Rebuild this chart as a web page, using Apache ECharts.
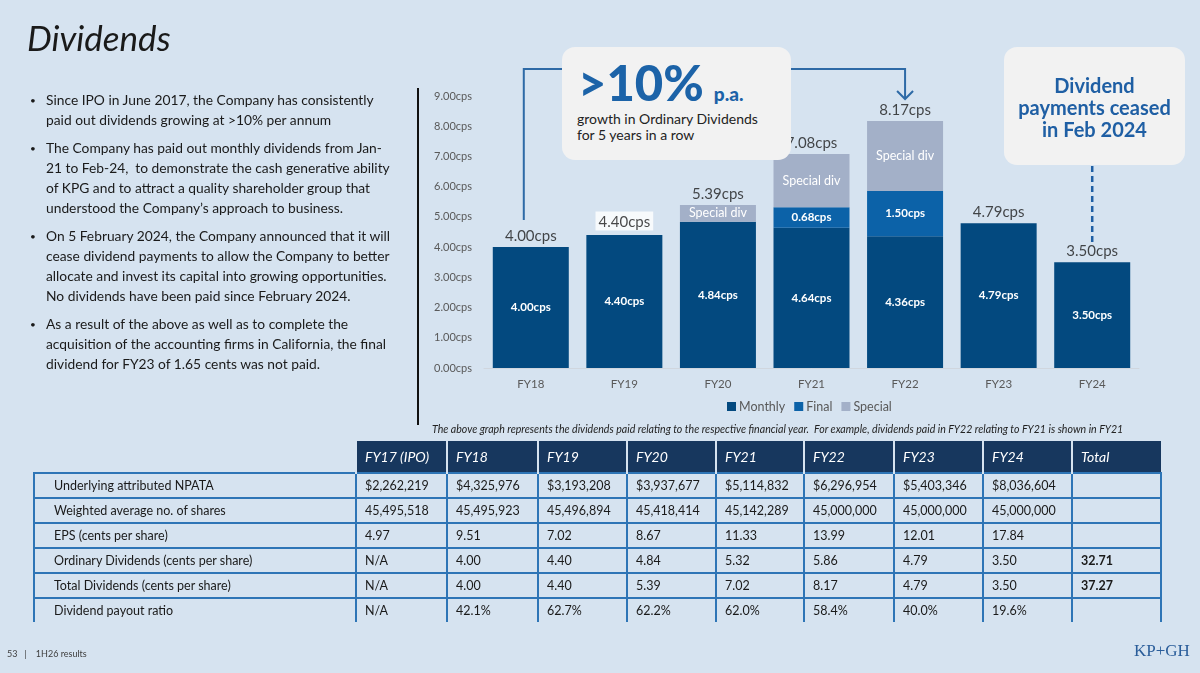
<!DOCTYPE html>
<html>
<head>
<meta charset="utf-8">
<script src="https://cdn.jsdelivr.net/npm/echarts@6.0.0/dist/echarts.min.js"></script>
<style>
  body { margin: 0; width: 1200px; height: 673px; overflow: hidden; background: #d6e3f0; font-family: Lato, 'Noto Sans', sans-serif; color: #1a1a1a; }
  #main { position: absolute; left: 0; top: 0; width: 1200px; height: 673px; }
  .abs { position: absolute; }
  .title { left: 27px; top: 16px; font-size: 35px; font-style: italic; }
  .bullets { left: 30px; top: 90px; width: 380px; font-size: 13.8px; line-height: 20px; }
  .bullets p { margin: 0 0 8px 0; padding-left: 16px; position: relative; white-space: nowrap; }
  .bullets p:before { content: '\2022'; position: absolute; left: 0; font-size: 10px; }
  .vline { left: 417px; top: 88px; width: 2px; height: 337px; background: #111; }
  .caption { left: 432px; top: 423px; font-size: 10.6px; font-style: italic; white-space: nowrap; color: #222; }
  .box { background: #f2f2f2; border-radius: 13px; }
  .box1 { left: 562px; top: 47px; width: 229px; height: 113px; }
  .big { left: 16px; top: 6px; font-size: 49px; font-weight: 900; color: #1c63a8; white-space: nowrap; }
  .big span { font-size: 19px; margin-left: 10px; }
  .sub { left: 15px; top: 64px; font-size: 14px; line-height: 16px; color: #222; }
  .box2 { left: 1004px; top: 47px; width: 181px; height: 118px; }
  .ceased { left: 0; top: 27px; width: 181px; text-align: center; font-size: 20px; line-height: 22px; font-weight: bold; color: #1f5fa4; }
  table { position: absolute; left: 33px; top: 441px; width: 1127px; border-collapse: collapse; table-layout: fixed; font-size: 12.5px; }
  th { height: 31px; background: #17375e; color: #fff; font-style: italic; font-weight: normal; font-size: 14px; text-align: left; padding: 0 0 0 8px; border-left: 2px solid #d6e3f0; }
  th.blank { background: transparent; border: none; }
  td { height: 23px; border: 2px solid #2e75b6; padding: 0 0 0 8px; white-space: nowrap; }
  tr:last-child td { border-bottom: none; }
  td.lab { padding-left: 19px; }
  td.tot { font-weight: bold; }
  .foot { left: 7px; top: 648px; font-size: 9px; color: #404040; }
  .logo { left: 1134px; top: 641px; font-family: 'Liberation Serif', serif; font-size: 17px; color: #2a5d9a; }
</style>
</head>
<body>
<div id="main"></div>
<div class="abs title">Dividends</div>
<div class="abs bullets">
  <p>Since IPO in June 2017, the Company has consistently<br>paid out dividends growing at &gt;10% per annum</p>
  <p>The Company has paid out monthly dividends from Jan-<br>21 to Feb-24,&nbsp; to demonstrate the cash generative ability<br>of KPG and to attract a quality shareholder group that<br>understood the Company’s approach to business.</p>
  <p>On 5 February 2024, the Company announced that it will<br>cease dividend payments to allow the Company to better<br>allocate and invest its capital into growing opportunities.<br>No dividends have been paid since February 2024.</p>
  <p>As a result of the above as well as to complete the<br>acquisition of the accounting firms in California, the final<br>dividend for FY23 of 1.65 cents was not paid.</p>
</div>
<div class="abs vline"></div>
<div class="abs caption">The above graph represents the dividends paid relating to the respective financial year.&nbsp; For example, dividends paid in FY22 relating to FY21 is shown in FY21</div>
<div class="abs box box1">
  <div class="abs big">&gt;10%<span>p.a.</span></div>
  <div class="abs sub">growth in Ordinary Dividends<br>for 5 years in a row</div>
</div>
<div class="abs box box2">
  <div class="abs ceased">Dividend<br>payments ceased<br>in Feb 2024</div>
</div>
<table id="tbl"></table>
<div class="abs foot">53 &nbsp;&nbsp;|&nbsp;&nbsp;&nbsp; 1H26 results</div>
<div class="abs logo">KP+GH</div>

<script>
// chart data (cents per share)
const years = ['FY18', 'FY19', 'FY20', 'FY21', 'FY22', 'FY23', 'FY24']
const monthly = [4.00, 4.40, 4.84, 4.64, 4.36, 4.79, 3.50]
const finalDiv = [0, 0, 0, 0.68, 1.50, 0, 0]
const special = [0, 0, 0.55, 1.76, 2.31, 0, 0]
const totals = [4.00, 4.40, 5.39, 7.08, 8.17, 4.79, 3.50]

// table data
const tableCols = ['FY17 (IPO)', 'FY18', 'FY19', 'FY20', 'FY21', 'FY22', 'FY23', 'FY24', 'Total']
const rowLabels = ['Underlying attributed NPATA', 'Weighted average no. of shares', 'EPS (cents per share)',
  'Ordinary Dividends (cents per share)', 'Total Dividends (cents per share)', 'Dividend payout ratio']
const npata = ['$2,262,219', '$4,325,976', '$3,193,208', '$3,937,677', '$5,114,832', '$6,296,954', '$5,403,346', '$8,036,604', '']
const shares = ['45,495,518', '45,495,923', '45,496,894', '45,418,414', '45,142,289', '45,000,000', '45,000,000', '45,000,000', '']
const eps = ['4.97', '9.51', '7.02', '8.67', '11.33', '13.99', '12.01', '17.84', '']
const ordDiv = ['N/A', '4.00', '4.40', '4.84', '5.32', '5.86', '4.79', '3.50', '32.71']
const totDiv = ['N/A', '4.00', '4.40', '5.39', '7.02', '8.17', '4.79', '3.50', '37.27']
const payout = ['N/A', '42.1%', '62.7%', '62.2%', '62.0%', '58.4%', '40.0%', '19.6%', '']
const tableRows = [npata, shares, eps, ordDiv, totDiv, payout]

// build table
const colW = [322, 91, 91, 89, 89, 88, 90, 89, 89, 89]
let html = '<colgroup>' + colW.map(w => '<col style="width:' + w + 'px">').join('') + '</colgroup>'
html += '<tr><th class="blank"></th>' + tableCols.map(c => '<th>' + c + '</th>').join('') + '</tr>'
tableRows.forEach((vals, i) => {
  html += '<tr><td class="lab">' + rowLabels[i] + '</td>' +
    vals.map((v, j) => '<td' + (j === vals.length - 1 ? ' class="tot"' : '') + '>' + v + '</td>').join('') + '</tr>'
})
document.getElementById('tbl').innerHTML = html

const C_MONTHLY = '#03497f'
const C_FINAL = '#0c62a8'
const C_SPECIAL = '#a3b0c8'
const FONT = 'Lato'

const chartDom = document.getElementById('main')
const myChart = echarts.init(chartDom)

const option = {
  animation: false,
  textStyle: { fontFamily: FONT },
  grid: { left: 484, right: 61, top: 96, bottom: 305 },
  legend: {
    data: ['Monthly', 'Final', 'Special'],
    left: 722,
    top: 395,
    itemWidth: 9,
    itemHeight: 9,
    itemGap: 9,
    icon: 'rect',
    textStyle: { color: '#595959', fontSize: 12.5, padding: [0, 0, 0, -2] }
  },
  xAxis: {
    type: 'category',
    data: years,
    axisLine: { lineStyle: { color: '#d0d6de' } },
    axisTick: { show: false },
    axisLabel: { color: '#595959', fontSize: 11.5, margin: 10 }
  },
  yAxis: {
    type: 'value',
    min: 0,
    max: 9,
    interval: 1,
    splitLine: { show: false },
    axisLabel: {
      color: '#595959',
      fontSize: 11,
      margin: 12,
      formatter: v => v.toFixed(2) + 'cps'
    }
  },
  series: [
    {
      name: 'Monthly',
      type: 'bar',
      stack: 'div',
      barWidth: 76,
      itemStyle: { color: C_MONTHLY },
      label: {
        show: true,
        position: 'inside',
        color: '#fff',
        fontWeight: 'bold',
        fontSize: 11.5,
        formatter: p => p.value.toFixed(2) + 'cps'
      },
      data: monthly
    },
    {
      name: 'Final',
      type: 'bar',
      stack: 'div',
      itemStyle: { color: C_FINAL },
      label: {
        show: true,
        position: 'inside',
        color: '#fff',
        fontWeight: 'bold',
        fontSize: 11.5,
        formatter: p => (p.value > 0 ? p.value.toFixed(2) + 'cps' : '')
      },
      data: finalDiv
    },
    {
      name: 'Special',
      type: 'bar',
      stack: 'div',
      itemStyle: { color: C_SPECIAL },
      label: {
        show: true,
        position: 'inside',
        color: '#fff',
        fontSize: 12.5,
        formatter: p => (p.value > 0 ? 'Special div' : '')
      },
      data: special
    },
    {
      name: 'Total',
      type: 'scatter',
      symbolSize: 1,
      itemStyle: { color: 'rgba(0,0,0,0)' },
      label: {
        show: true,
        position: 'top',
        distance: 3,
        color: '#1a1a1a',
        fontSize: 15,
        formatter: p => p.value.toFixed(2) + 'cps'
      },
      data: totals.map((v, i) => i === 1
        ? { value: v, label: { backgroundColor: '#fff', padding: [3, 3, 1, 3], distance: 4 } }
        : v)
    }
  ]
}

myChart.setOption(option)

// connector annotations tied to the axes
const xOf = name => myChart.convertToPixel({ xAxisIndex: 0 }, name)
const yOf = v => myChart.convertToPixel({ yAxisIndex: 0 }, v)
const xa = xOf('FY18') - 7
const xb = xOf('FY22')
const xc = xOf('FY24')
const topY = 69
myChart.setOption({
  graphic: [
    {
      type: 'polyline',
      shape: { points: [[xa, yOf(totals[0]) - 27], [xa, topY], [xb, topY], [xb, topY + 30]] },
      style: { stroke: '#2e6aa6', lineWidth: 2, fill: null }
    },
    {
      type: 'polyline',
      shape: { points: [[xb - 8, topY + 22], [xb, topY + 30], [xb + 8, topY + 22]] },
      style: { stroke: '#2e6aa6', lineWidth: 2, fill: null }
    },
    {
      type: 'line',
      shape: { x1: xc, y1: 166, x2: xc, y2: yOf(totals[6]) - 20 },
      style: { stroke: '#1f5fa4', lineWidth: 2.5, lineDash: [6, 4] }
    }
  ]
})
</script>
</body>
</html>
